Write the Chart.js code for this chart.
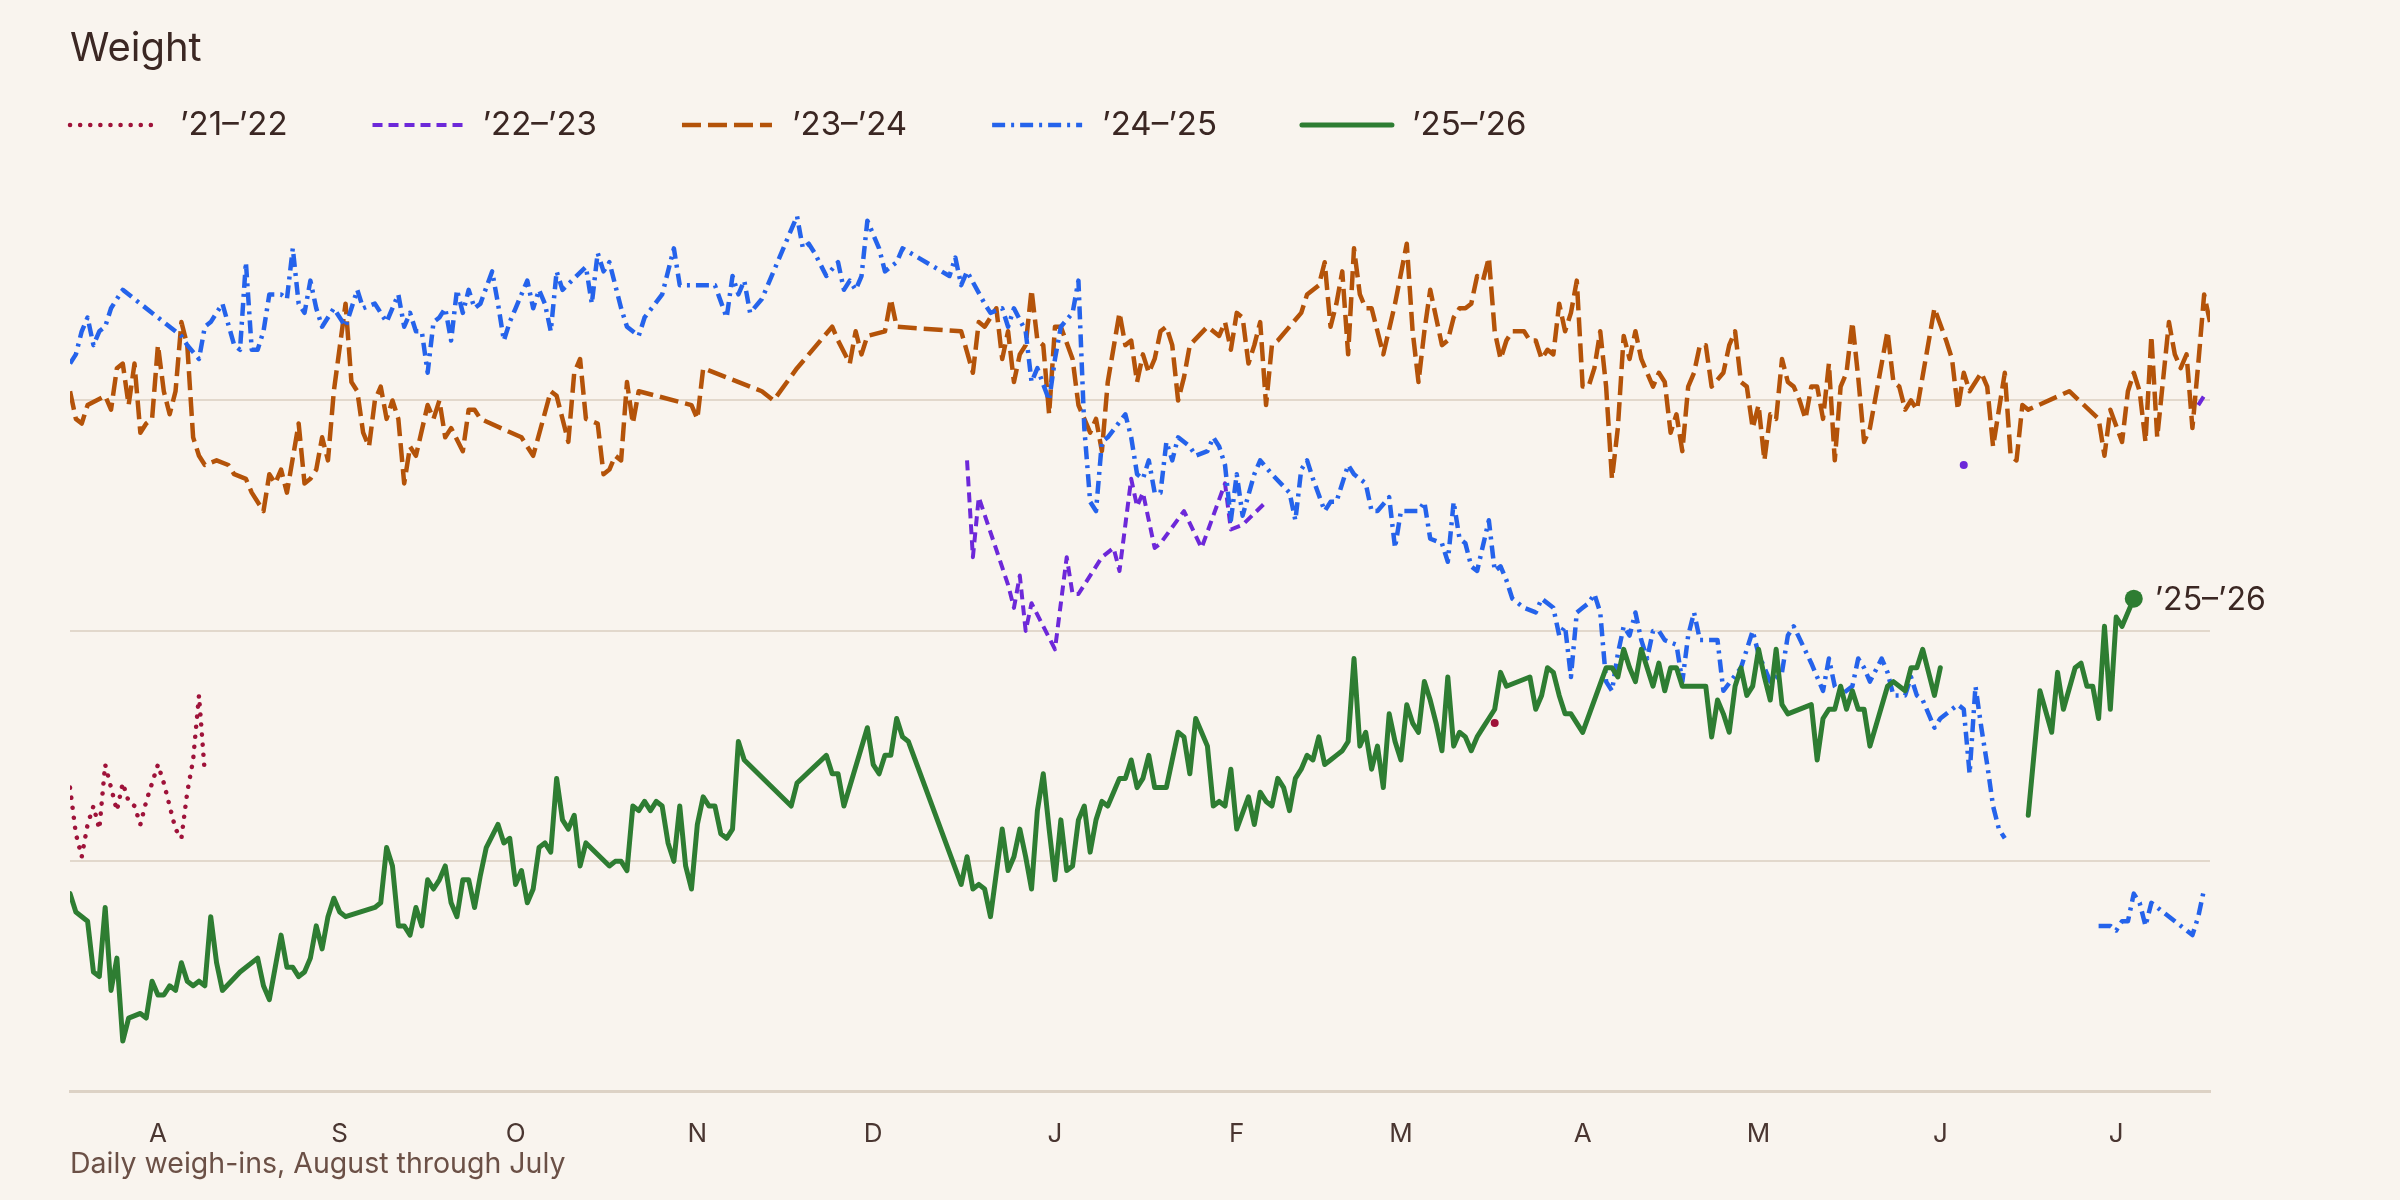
<!DOCTYPE html>
<html>
<head>
<meta charset="utf-8">
<title>Weight</title>
<script src="https://cdn.jsdelivr.net/npm/chart.js@4.4.1/dist/chart.umd.min.js"></script>
<style>
  html, body { margin: 0; padding: 0; background: #f9f4ee; }
  canvas { display: block; }
</style>
</head>
<body>
<canvas id="chart" width="2400" height="1200"></canvas>
<script>
// x = day of the season (0 = Aug 1), y = weight
const yGrid = [175, 180, 185, 190];
const monthTicks = [15, 46, 76, 107, 137, 168, 199, 227, 258, 288, 319, 349];
const monthLabels = ['A', 'S', 'O', 'N', 'D', 'J', 'F', 'M', 'A', 'M', 'J', 'J'];
const seasons = ['’21–’22', '’22–’23', '’23–’24', '’24–’25', '’25–’26'];

// null = break in the line
const days21 = [0, 1, 2, 3, 4, 5, 6, 7, 8, 9, 10, 11, 12, 13, 14, 15, 16, 17, 18, 19, 20, 21, 22, 23, 100, 243];
const wt21 = [181.6, 180.6, 180.1, 180.8, 181.2, 180.7, 182.1, 181.6, 181.1, 181.7, 181.3, 181.2, 180.8, 181.3, 181.7, 182.1, 181.7, 181.2, 180.7, 180.5, 181.5, 182.2, 183.6, 181.9, null, 183.0];

const days22 = [153, 154, 155, 160, 161, 162, 163, 164, 168, 170, 171, 172, 176, 178, 179, 181, 182, 183, 185, 186,
  190, 193, 197, 198, 200, 204, 260, 323, 340, 363, 364];
const wt22 = [188.7, 186.6, 187.9, 186.0, 185.5, 186.2, 185.0, 185.6, 184.6, 186.6, 185.8, 185.8, 186.6, 186.8, 186.3, 188.3, 187.7, 188.0, 186.8, 186.9,
  187.6, 186.8, 188.2, 187.2, 187.3, 187.8, null, 188.6, null, 189.9, 190.1];

const days23 = [0, 1, 2, 3, 6, 7, 8, 9, 10, 11, 12, 13, 14, 15, 16, 17, 18, 19, 20, 21,
  22, 23, 25, 27, 28, 30, 31, 33, 34, 35, 36, 37, 39, 40, 41, 42, 43, 44, 45, 47,
  48, 49, 50, 51, 52, 53, 54, 55, 56, 57, 58, 59, 61, 62, 63, 64, 65, 67, 68, 69,
  70, 77, 79, 82, 83, 85, 86, 87, 88, 90, 91, 92, 93, 94, 95, 96, 97, 106, 107, 108,
  118, 120, 124, 130, 131, 133, 134, 135, 136, 139, 140, 141, 152, 154, 155, 156, 158, 159, 160, 161,
  162, 163, 164, 165, 166, 167, 168, 169, 171, 172, 174, 175, 176, 177, 179, 180, 181, 182, 183, 184,
  185, 186, 187, 188, 189, 190, 191, 194, 196, 197, 198, 199, 200, 201, 202, 203, 204, 205, 206, 210,
  211, 213, 214, 215, 216, 217, 218, 219, 220, 221, 222, 224, 226, 228, 229, 230, 231, 232, 234, 235,
  236, 237, 238, 239, 240, 241, 242, 243, 244, 245, 246, 248, 249, 250, 251, 252, 253, 254, 255, 256,
  257, 258, 259, 260, 261, 262, 263, 264, 265, 266, 267, 268, 269, 270, 271, 272, 273, 274, 275, 276,
  277, 278, 279, 280, 282, 283, 284, 285, 286, 287, 288, 289, 290, 291, 292, 293, 294, 295, 296, 297,
  298, 299, 300, 301, 302, 303, 304, 305, 306, 307, 310, 311, 312, 313, 314, 315, 318, 320, 321, 322,
  323, 324, 326, 327, 328, 330, 331, 332, 333, 334, 341, 346, 347, 348, 350, 351, 352, 353, 354, 355,
  356, 358, 359, 360, 361, 362, 363, 364, 365];
const wt23 = [190.2, 189.6, 189.5, 189.9, 190.1, 189.8, 190.7, 190.8, 189.9, 190.8, 189.3, 189.5, 189.6, 191.2, 190.2, 189.7, 190.2, 191.7, 191.2, 189.2,
  188.8, 188.6, 188.7, 188.6, 188.4, 188.3, 188.0, 187.6, 188.4, 188.2, 188.5, 188.0, 189.5, 188.2, 188.3, 188.5, 189.2, 188.7, 190.2, 192.1,
  190.4, 190.2, 189.3, 189.0, 190.0, 190.3, 189.6, 190.0, 189.6, 188.2, 189.0, 188.8, 189.9, 189.6, 190.0, 189.2, 189.4, 188.9, 189.8, 189.8,
  189.6, 189.2, 188.8, 190.2, 190.1, 189.1, 190.6, 190.9, 189.6, 189.5, 188.4, 188.5, 188.8, 188.7, 190.4, 189.5, 190.2, 189.9, 189.6, 190.7,
  190.2, 190.0, 190.7, 191.6, 191.3, 190.8, 191.5, 191.0, 191.4, 191.5, 192.2, 191.6, 191.5, 190.6, 191.7, 191.6, 192.0, 190.9, 191.5, 190.4,
  191.0, 191.2, 192.4, 191.3, 191.2, 189.7, 191.6, 191.6, 190.9, 189.9, 189.3, 189.6, 188.9, 190.4, 191.9, 191.2, 191.3, 190.4, 191.0, 190.6,
  190.9, 191.5, 191.6, 191.2, 190.0, 190.5, 191.2, 191.6, 191.4, 191.7, 191.1, 191.9, 191.8, 190.8, 191.2, 191.7, 189.9, 191.2, 191.3, 191.9,
  192.3, 192.5, 193.0, 191.6, 192.1, 192.8, 191.0, 193.3, 192.3, 192.0, 192.0, 191.0, 192.1, 193.4, 191.5, 190.4, 191.5, 192.4, 191.2, 191.3,
  191.8, 192.0, 192.0, 192.1, 192.7, 192.6, 193.1, 191.5, 190.9, 191.3, 191.5, 191.5, 191.3, 191.3, 190.9, 191.1, 191.0, 192.1, 191.5, 191.9,
  192.6, 190.3, 190.3, 190.7, 191.5, 190.3, 188.3, 189.4, 191.4, 190.9, 191.5, 190.9, 190.6, 190.3, 190.6, 190.4, 189.3, 189.7, 188.9, 190.3,
  190.6, 191.2, 191.2, 190.3, 190.6, 191.2, 191.5, 190.4, 190.3, 189.4, 189.9, 188.7, 189.7, 189.6, 190.9, 190.4, 190.3, 190.0, 189.6, 190.3,
  190.3, 189.6, 190.8, 188.7, 190.3, 190.6, 191.7, 190.5, 189.1, 189.4, 191.5, 190.4, 190.3, 189.8, 190.0, 189.8, 192.0, 191.3, 190.9, 189.8,
  190.6, 190.2, 190.6, 190.3, 189.0, 190.6, 188.8, 188.7, 189.9, 189.8, 190.2, 189.6, 188.8, 189.8, 189.1, 190.2, 190.6, 190.2, 189.1, 191.4,
  189.2, 191.7, 191.0, 190.7, 191.0, 189.4, 190.8, 192.3, 191.7];

const days24 = [0, 1, 2, 3, 4, 5, 6, 7, 9, 19, 20, 22, 23, 24, 26, 28, 29, 30, 31, 32,
  33, 34, 36, 37, 38, 39, 40, 41, 42, 43, 45, 47, 49, 50, 52, 54, 56, 57, 58, 59,
  60, 61, 62, 63, 64, 65, 66, 67, 68, 69, 70, 72, 73, 74, 75, 76, 78, 79, 80, 81,
  82, 83, 84, 88, 89, 90, 91, 92, 94, 95, 97, 98, 101, 103, 104, 110, 112, 113, 114, 115,
  116, 118, 121, 124, 125, 126, 127, 129, 131, 132, 133, 134, 135, 136, 138, 139, 141, 142, 150, 151,
  152, 153, 156, 157, 159, 160, 161, 163, 164, 165, 167, 168, 169, 171, 172, 173, 174, 175, 176, 177,
  180, 181, 182, 183, 184, 185, 186, 187, 188, 189, 191, 192, 194, 195, 196, 197, 198, 199, 200, 202,
  203, 205, 208, 209, 210, 211, 212, 214, 215, 216, 218, 219, 221, 222, 223, 225, 226, 227, 228, 230,
  231, 232, 234, 235, 236, 237, 238, 239, 240, 242, 243, 244, 245, 246, 247, 248, 250, 251, 253, 254,
  255, 256, 257, 258, 259, 260, 261, 262, 263, 264, 265, 266, 267, 268, 269, 270, 271, 272, 274, 275,
  276, 277, 278, 280, 281, 282, 285, 287, 288, 290, 292, 293, 294, 297, 299, 300, 301, 302, 304, 305,
  306, 307, 309, 310, 311, 313, 314, 315, 316, 318, 319, 322, 323, 324, 325, 326, 327, 328, 329, 330,
  338, 346, 348, 349, 350, 351, 352, 353, 354, 355, 356, 361, 362, 363, 364];
const wt24 = [190.8, 191.0, 191.5, 191.8, 191.2, 191.5, 191.6, 192.0, 192.4, 191.4, 191.2, 190.9, 191.6, 191.7, 192.1, 191.2, 191.1, 193.0, 191.1, 191.1,
  191.5, 192.3, 192.3, 192.2, 193.3, 192.1, 191.9, 192.6, 192.0, 191.6, 192.0, 191.6, 192.4, 192.0, 192.1, 191.7, 192.3, 191.6, 191.9, 191.5,
  191.5, 190.6, 191.7, 191.8, 192.0, 191.3, 192.4, 191.9, 192.4, 192.0, 192.1, 192.8, 192.1, 191.3, 191.7, 192.0, 192.6, 192.0, 192.4, 192.1,
  191.5, 192.8, 192.4, 192.9, 192.1, 193.2, 192.8, 193.0, 192.0, 191.6, 191.4, 191.8, 192.3, 193.3, 192.5, 192.5, 191.8, 192.7, 192.3, 192.6,
  191.9, 192.2, 193.1, 194.0, 193.3, 193.4, 193.2, 192.7, 193.0, 192.4, 192.6, 192.4, 192.7, 193.9, 193.3, 192.8, 193.0, 193.3, 192.7, 193.1,
  192.5, 192.8, 192.1, 191.9, 192.0, 191.6, 192.0, 191.5, 190.4, 190.7, 190.0, 190.9, 191.6, 191.9, 192.6, 189.4, 187.8, 187.6, 189.1, 189.2,
  189.7, 189.2, 188.4, 188.3, 188.7, 188.0, 188.0, 189.1, 188.7, 189.2, 189.0, 188.8, 188.9, 189.2, 189.0, 188.6, 187.4, 188.4, 187.5, 188.4,
  188.7, 188.4, 188.0, 187.4, 188.5, 188.7, 188.3, 187.6, 187.8, 187.8, 188.6, 188.4, 188.2, 187.6, 187.6, 187.9, 186.8, 187.6, 187.6, 187.6,
  187.8, 187.0, 186.9, 186.5, 187.8, 187.0, 186.9, 186.4, 186.3, 187.4, 186.3, 186.4, 186.1, 185.7, 185.6, 185.5, 185.4, 185.7, 185.5, 184.9,
  185.1, 184.0, 185.4, 185.5, 185.6, 185.8, 185.4, 183.9, 183.7, 184.5, 185.1, 184.9, 185.4, 184.8, 184.4, 185.0, 185.0, 184.8, 184.7, 183.9,
  184.9, 185.4, 184.8, 184.8, 184.8, 183.7, 184.2, 185.0, 184.5, 183.9, 184.1, 184.9, 185.1, 184.3, 183.7, 184.4, 183.8, 183.6, 183.8, 184.4,
  184.2, 183.9, 184.4, 184.1, 183.6, 183.6, 184.0, 183.6, 183.5, 182.9, 183.1, 183.4, 183.3, 181.9, 183.8, 182.9, 182.1, 181.2, 180.7, 180.5,
  null, 178.6, 178.6, 178.5, 178.7, 178.7, 179.3, 179.1, 178.6, 179.1, 179.0, 178.5, 178.4, 178.8, 179.4];

const days25 = [0, 1, 3, 4, 5, 6, 7, 8, 9, 10, 12, 13, 14, 15, 16, 17, 18, 19, 20, 21,
  22, 23, 24, 25, 26, 29, 32, 33, 34, 36, 37, 38, 39, 40, 41, 42, 43, 44, 45, 46,
  47, 52, 53, 54, 55, 56, 57, 58, 59, 60, 61, 62, 63, 64, 65, 66, 67, 68, 69, 70,
  71, 73, 74, 75, 76, 77, 78, 79, 80, 81, 82, 83, 84, 85, 86, 87, 88, 92, 93, 94,
  95, 96, 97, 98, 99, 100, 101, 102, 103, 104, 105, 106, 107, 108, 109, 110, 111, 112, 113, 114,
  115, 123, 124, 129, 130, 131, 132, 136, 137, 138, 139, 140, 141, 142, 143, 152, 153, 154, 155, 156,
  157, 159, 160, 161, 162, 163, 164, 165, 166, 167, 168, 169, 170, 171, 172, 173, 174, 175, 176, 177,
  178, 179, 180, 181, 182, 183, 184, 185, 186, 187, 189, 190, 191, 192, 193, 194, 195, 196, 197, 198,
  199, 201, 202, 203, 204, 205, 206, 207, 208, 209, 210, 211, 212, 213, 214, 215, 216, 217, 218, 219,
  220, 221, 222, 223, 224, 225, 226, 227, 228, 229, 230, 231, 232, 233, 234, 235, 236, 237, 238, 239,
  240, 241, 242, 243, 244, 245, 249, 250, 251, 252, 253, 254, 255, 256, 257, 258, 262, 263, 264, 265,
  266, 267, 268, 269, 270, 271, 272, 273, 274, 275, 279, 280, 281, 282, 283, 284, 285, 286, 287, 288,
  289, 290, 291, 292, 293, 297, 298, 299, 300, 301, 302, 303, 304, 305, 306, 307, 310, 311, 313, 314,
  315, 316, 317, 318, 319, 326, 334, 336, 338, 339, 340, 342, 343, 344, 345, 346, 347, 348, 349, 350, 352];
const wt25 = [179.3, 178.9, 178.7, 177.6, 177.5, 179.0, 177.2, 177.9, 176.1, 176.6, 176.7, 176.6, 177.4, 177.1, 177.1, 177.3, 177.2, 177.8, 177.4, 177.3,
  177.4, 177.3, 178.8, 177.8, 177.2, 177.6, 177.9, 177.3, 177.0, 178.4, 177.7, 177.7, 177.5, 177.6, 177.9, 178.6, 178.1, 178.8, 179.2, 178.9,
  178.8, 179.0, 179.1, 180.3, 179.9, 178.6, 178.6, 178.4, 179.0, 178.6, 179.6, 179.4, 179.6, 179.9, 179.1, 178.8, 179.6, 179.6, 179.0, 179.7,
  180.3, 180.8, 180.4, 180.5, 179.5, 179.8, 179.1, 179.4, 180.3, 180.4, 180.2, 181.8, 180.9, 180.7, 181.0, 179.9, 180.4, 179.9, 180.0, 180.0,
  179.8, 181.2, 181.1, 181.3, 181.1, 181.3, 181.2, 180.4, 180.0, 181.2, 179.9, 179.4, 180.8, 181.4, 181.2, 181.2, 180.6, 180.5, 180.7, 182.6,
  182.2, 181.2, 181.7, 182.3, 181.9, 181.9, 181.2, 182.9, 182.1, 181.9, 182.3, 182.3, 183.1, 182.7, 182.6, 179.5, 180.1, 179.4, 179.5, 179.4,
  178.8, 180.7, 179.8, 180.1, 180.7, 180.1, 179.4, 181.1, 181.9, 180.7, 179.6, 180.9, 179.8, 179.9, 180.9, 181.2, 180.2, 180.9, 181.3, 181.2,
  181.5, 181.8, 181.8, 182.2, 181.6, 181.8, 182.3, 181.6, 181.6, 181.6, 182.8, 182.7, 181.9, 183.1, 182.8, 182.5, 181.2, 181.3, 181.2, 182.0,
  180.7, 181.4, 180.8, 181.5, 181.3, 181.2, 181.8, 181.6, 181.1, 181.8, 182.0, 182.3, 182.2, 182.7, 182.1, 182.2, 182.3, 182.4, 182.6, 184.4,
  182.5, 182.8, 182.0, 182.5, 181.6, 183.2, 182.6, 182.2, 183.4, 183.0, 182.8, 183.9, 183.5, 183.0, 182.4, 184.0, 182.5, 182.8, 182.7, 182.4,
  182.7, 182.9, 183.1, 183.3, 184.1, 183.8, 184.0, 183.3, 183.6, 184.2, 184.1, 183.6, 183.2, 183.2, 183.0, 182.8, 184.2, 184.2, 184.0, 184.6,
  184.2, 183.9, 184.6, 184.2, 183.8, 184.3, 183.7, 184.2, 184.2, 183.8, 183.8, 182.7, 183.5, 183.2, 182.8, 183.8, 184.2, 183.6, 183.8, 184.6,
  184.0, 183.5, 184.6, 183.4, 183.2, 183.4, 182.2, 183.1, 183.3, 183.3, 183.8, 183.3, 183.7, 183.3, 183.3, 182.5, 183.8, 183.9, 183.7, 184.2,
  184.2, 184.6, 184.1, 183.6, 184.2, null, 181.0, 183.7, 182.8, 184.1, 183.3, 184.2, 184.3, 183.8, 183.8, 183.1, 185.1, 183.3, 185.3, 185.1, 185.7];

const textColor = '#3b2723';
const gridColor = '#e2d8cc';

function points(days, weights) {
  return days.map((d, i) => ({ x: d, y: weights[i] }));
}

// lone readings get a dot so they stay visible
function loneDot(ctx) {
  const data = ctx.dataset.data;
  const i = ctx.dataIndex;
  const prev = data[i - 1];
  const next = data[i + 1];
  if (data[i].y == null) return 0;
  const alone = (!prev || prev.y == null) && (!next || next.y == null);
  return alone ? 4 : 0;
}

function series(label, days, weights, color, width, dash, cap, order) {
  return {
    label: label,
    data: points(days, weights),
    borderColor: color,
    backgroundColor: color,
    pointBackgroundColor: color,
    borderWidth: width,
    borderDash: dash,
    borderCapStyle: cap,
    borderJoinStyle: 'round',
    pointRadius: loneDot,
    pointBorderWidth: 0,
    pointHoverRadius: 0,
    tension: 0,
    spanGaps: false,
    order: order,
  };
}

const datasets = [
  series(seasons[0], days21, wt21, '#9f1239', 4.5, [0.1, 10], 'round', 4),
  series(seasons[1], days22, wt22, '#6d28d9', 4, [10, 6], 'butt', 3),
  series(seasons[2], days23, wt23, '#b45309', 4.5, [19, 7], 'butt', 2),
  series(seasons[3], days24, wt24, '#2563eb', 4.5, [13, 6, 3, 6], 'butt', 1),
  series(seasons[4], days25, wt25, '#2e7d32', 5, [], 'round', 0),
];
// big dot on the latest reading
const lastIdx = days25.length - 1;
datasets[4].pointRadius = ctx => (ctx.dataIndex === lastIdx ? 9 : 0);

const extras = {
  id: 'extras',
  afterDraw(chart) {
    const ctx = chart.ctx;
    ctx.save();

    // legend
    ctx.font = '33px Inter';
    ctx.textBaseline = 'middle';
    ctx.textAlign = 'left';
    let x = 70;
    const y = 125;
    chart.data.datasets.forEach(ds => {
      ctx.strokeStyle = ds.borderColor;
      ctx.lineWidth = ds.borderWidth;
      ctx.lineCap = ds.borderCapStyle;
      ctx.setLineDash(ds.borderDash);
      ctx.beginPath();
      ctx.moveTo(x, y);
      ctx.lineTo(x + 90, y);
      ctx.stroke();
      ctx.setLineDash([]);
      ctx.fillStyle = textColor;
      ctx.fillText(ds.label, x + 110, y);
      x += 110 + ctx.measureText(ds.label).width + 85;
    });

    // label at the end of the current season
    const meta = chart.getDatasetMeta(4);
    const pt = meta.data[lastIdx];
    ctx.font = '32px Inter';
    ctx.fillStyle = textColor;
    ctx.fillText(seasons[4], pt.x + 21, pt.y + 2);

    // caption
    ctx.font = '28.5px Inter';
    ctx.fillStyle = '#6b5046';
    ctx.fillText('Daily weigh-ins, August through July', 70, 1164);
    ctx.restore();
  },
};

new Chart(document.getElementById('chart'), {
  type: 'line',
  data: { datasets: datasets },
  plugins: [extras],
  options: {
    responsive: false,
    animation: false,
    events: [],
    layout: { padding: { left: 70, right: 190, top: 0, bottom: 23 } },
    plugins: {
      legend: { display: false },
      tooltip: { enabled: false },
      title: {
        display: true,
        text: 'Weight',
        align: 'start',
        color: textColor,
        font: { family: 'Inter', size: 40, weight: 'normal' },
        padding: { top: 25, bottom: 97 },
      },
    },
    scales: {
      x: {
        type: 'linear',
        min: 0,
        max: 365,
        afterBuildTicks: axis => {
          axis.ticks = monthTicks.map(v => ({ value: v }));
        },
        ticks: {
          callback: (v, i) => monthLabels[i],
          autoSkip: false,
          maxRotation: 0,
          padding: 27,
          color: '#4a3631',
          font: { family: 'Inter', size: 26 },
        },
        grid: { display: false, drawTicks: false },
        border: { display: true, color: '#ddd2c5', width: 3 },
      },
      y: {
        min: 175,
        max: 195,
        afterBuildTicks: axis => {
          axis.ticks = yGrid.map(v => ({ value: v }));
        },
        ticks: { display: false },
        grid: { color: gridColor, lineWidth: 2, drawTicks: false },
        border: { display: false },
      },
    },
  },
});
</script>
</body>
</html>
